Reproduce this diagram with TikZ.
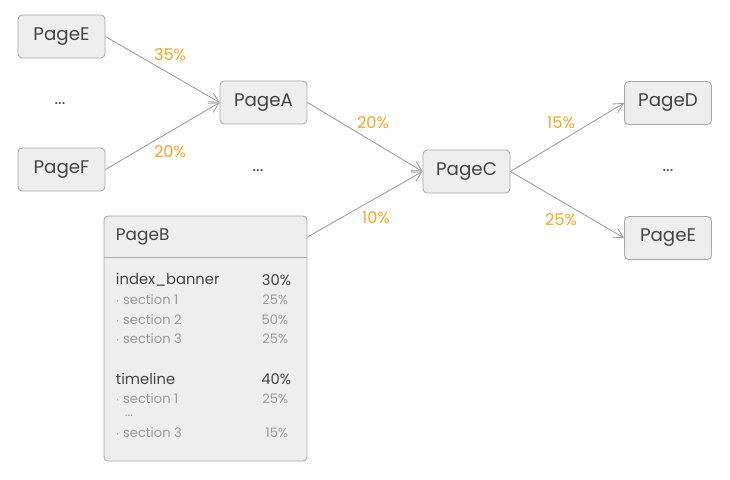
\documentclass[tikz,border=0pt]{standalone}
\usepackage{fontspec}
\setmainfont{Poppins}
\usepackage{xcolor}
\usetikzlibrary{positioning, arrows.meta}
\definecolor{boxfill}{HTML}{EEEEEE}
\definecolor{boxline}{HTML}{A8A8A8}
\definecolor{txt}{HTML}{444444}
\definecolor{subtxt}{HTML}{999999}
\definecolor{pct}{HTML}{F5A623}

\begin{document}
\begin{tikzpicture}[
  x=0.025cm, y=-0.025cm,
  page/.style={draw=boxline, fill=boxfill, rounded corners=3pt, line width=0.6pt,
               minimum width=2.175cm, minimum height=1.075cm, text=txt,
               font=\fontsize{13}{15}\selectfont},
  flow/.style={-{Straight Barb[length=2.4mm, width=2.6mm]}, draw=subtxt, line width=0.6pt},
  rate/.style={text=pct, font=\fontsize{11.5}{13}\selectfont},
  more/.style={text=txt, font=\fontsize{12}{14}\selectfont},
  item/.style={text=txt, font=\fontsize{10.5}{12}\selectfont},
  sub/.style={text=subtxt, font=\fontsize{9.3}{11}\selectfont}
]
  \useasboundingbox (0,0) rectangle (730,480);
  % left column
  \node[page] (pageE1) at (61.5, 36.5)  {PageE};
  \node[more] (dotsL)  at (60, 104)     {...};
  \node[page] (pageF)  at (61.5, 169.5) {PageF};
  % middle
  \node[page] (pageA)  at (263.5, 102.5) {PageA};
  \node[more] (dotsM)  at (258, 171)     {...};
  \node[page] (pageC)  at (466.5, 171.5) {PageC};
  % right column
  \node[page] (pageD)  at (668, 103)    {PageD};
  \node[more] (dotsR)  at (668, 171)    {...};
  \node[page] (pageE2) at (668, 238)    {PageE};
  % PageB with its sections
  \node[page, minimum width=5.075cm, minimum height=6.125cm] (pageB) at (205.5, 338.5) {};
  \draw[boxline, line width=0.6pt] (104, 257) -- (307, 257);
  \node[anchor=west, text=txt, font=\fontsize{12}{14}\selectfont] (pageBtitle) at (111, 237) {PageB};
  \coordinate (pageBout) at (pageB.east |- pageBtitle);
  \node[item, anchor=west] (banner)  at (111, 280) {index\_banner};
  \node[item, anchor=east] (bannerP) at (296, 280) {30\%};
  \node[sub, anchor=west]  (bs1)  at (111, 300) {$\cdot$ section 1};
  \node[sub, anchor=east]  (bs1P) at (293, 300) {25\%};
  \node[sub, anchor=west]  (bs2)  at (111, 320) {$\cdot$ section 2};
  \node[sub, anchor=east]  (bs2P) at (293, 320) {50\%};
  \node[sub, anchor=west]  (bs3)  at (111, 339) {$\cdot$ section 3};
  \node[sub, anchor=east]  (bs3P) at (293, 339) {25\%};
  \node[item, anchor=west] (tline)  at (111, 379) {timeline};
  \node[item, anchor=east] (tlineP) at (296, 379) {40\%};
  \node[sub, anchor=west]  (ts1)  at (111, 399) {$\cdot$ section 1};
  \node[sub, anchor=east]  (ts1P) at (293, 399) {25\%};
  \node[sub, inner sep=0pt] (tdots) at (129, 416) {...};
  \node[sub, anchor=west]  (ts3)  at (111, 433) {$\cdot$ section 3};
  \node[sub, anchor=east]  (ts3P) at (293, 433) {15\%};
  % connectors
  \draw[flow] (pageE1.east) -- (pageA.west);
  \draw[flow] (pageF.east) -- (pageA.west);
  \draw[flow] (pageA.east) -- (pageC.west);
  \draw[flow] (pageBout) -- (pageC.west);
  \draw[flow] (pageC.east) -- (pageD.west);
  \draw[flow] (pageC.east) -- (pageE2.west);
  \node[rate] (r1) at (170, 55)  {35\%};
  \node[rate] (r2) at (170, 152) {20\%};
  \node[rate] (r3) at (373, 123) {20\%};
  \node[rate] (r4) at (376, 218) {10\%};
  \node[rate] (r5) at (561, 123) {15\%};
  \node[rate] (r6) at (561, 220) {25\%};
\end{tikzpicture}
\end{document}
